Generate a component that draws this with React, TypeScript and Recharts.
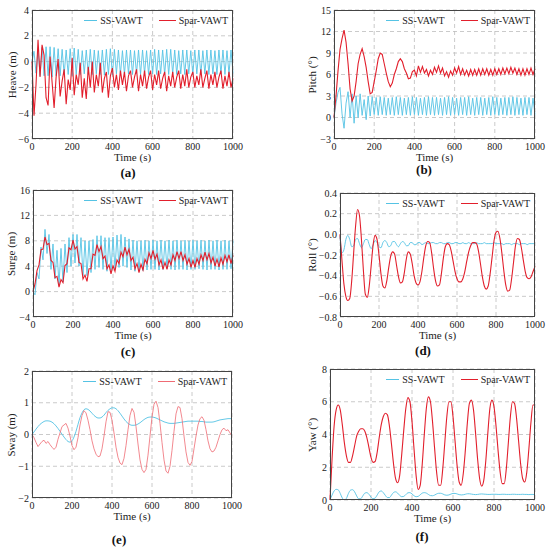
import { LineChart, Line, XAxis, YAxis, CartesianGrid } from "recharts";

// sample times (s), every 10 s
const TIME = [
  0, 10, 20, 30, 40, 50, 60, 70, 80, 90,
  100, 110, 120, 130, 140, 150, 160, 170, 180, 190,
  200, 210, 220, 230, 240, 250, 260, 270, 280, 290,
  300, 310, 320, 330, 340, 350, 360, 370, 380, 390,
  400, 410, 420, 430, 440, 450, 460, 470, 480, 490,
  500, 510, 520, 530, 540, 550, 560, 570, 580, 590,
  600, 610, 620, 630, 640, 650, 660, 670, 680, 690,
  700, 710, 720, 730, 740, 750, 760, 770, 780, 790,
  800, 810, 820, 830, 840, 850, 860, 870, 880, 890,
  900, 910, 920, 930, 940, 950, 960, 970, 980, 990,
  1000,
];
const TIME_TICKS = [0, 200, 400, 600, 800, 1000];

const heaveSS = [
  0, 0.8, -0.9, 1.0, -1.1, 1.1, -1.1, 1.15, -1.1, 1.15,
  -1.2, 1.1, -1.1, 1.0, -1.1, 0.95, -1.0, 0.9, -1.0, 1.0,
  -1.1, 1.05, -1.0, 0.95, -1.0, 0.85, -0.95, 0.9, -1.0, 0.95,
  -1.0, 0.9, -0.95, 0.85, -1.0, 0.9, -1.05, 0.95, -1.0, 1.0,
  -1.05, 0.95, -0.95, 0.9, -1.0, 0.85, -1.0, 0.9, -0.95, 0.9,
  -1.0, 0.85, -0.95, 0.9, -1.0, 0.9, -0.95, 0.85, -1.0, 0.9,
  -0.95, 0.95, -1.0, 0.9, -0.95, 0.9, -1.0, 0.95, -1.0, 0.95,
  -0.95, 0.9, -1.0, 0.85, -0.95, 0.9, -1.0, 0.9, -0.95, 0.85,
  -1.0, 0.9, -0.95, 0.9, -1.0, 0.85, -0.95, 0.9, -1.0, 0.9,
  -0.95, 0.85, -1.0, 0.9, -0.95, 0.9, -1.0, 0.85, -0.95, 0.9,
  -0.9,
];
const heaveSpar = [
  0, -4.2, -1.8, 1.7, -1.2, 1.3, 0.5, -2.8, -3.4, 0.4,
  -1.6, -3.6, -1.2, 0.2, -2.7, -1.5, -0.6, -3.3, -1.4, -2.2,
  0.3, -2.6, -1.0, -1.8, -0.1, -2.8, -1.3, -2.9, -0.4, -2.0,
  0.0, -2.4, -1.0, -1.9, -0.1, -2.4, -1.3, -0.8, -2.8, -1.1,
  -0.5, -2.0, -1.0, -2.2, -0.7, -1.8, -0.8, -2.3, -1.1, -0.7,
  -2.0, -1.2, -0.6, -2.3, -1.0, -1.9, -0.7, -2.1, -1.2, -0.7,
  -2.2, -1.0, -1.8, -0.7, -2.1, -1.3, -0.8, -2.3, -1.1, -1.9,
  -0.8, -2.0, -1.2, -0.7, -2.1, -1.0, -1.9, -0.6, -2.0, -1.2,
  -0.8, -2.0, -1.1, -1.8, -0.6, -2.0, -1.3, -0.7, -2.1, -1.0,
  -1.8, -0.8, -2.0, -1.2, -0.7, -2.1, -1.1, -1.9, -0.8, -2.0,
  -1.3,
];

const pitchSS = [
  0, 2.0, 3.5, 4.2, 0.5, -1.5, 2.0, 3.6, 0.0, 3.3,
  -0.8, 3.0, 0.0, 3.3, 0.3, 2.5, -0.3, 3.0, 0.2, 2.9,
  0.4, 2.8, 0.3, 2.9, 0.4, 2.8, 0.3, 2.7, 0.4, 2.8,
  0.3, 2.9, 0.4, 2.8, 0.3, 2.7, 0.4, 2.8, 0.3, 2.9,
  0.4, 2.8, 0.3, 2.7, 0.4, 2.8, 0.3, 2.9, 0.4, 2.8,
  0.3, 2.8, 0.4, 2.7, 0.3, 2.8, 0.4, 2.9, 0.3, 2.8,
  0.4, 2.7, 0.3, 2.8, 0.4, 2.8, 0.3, 2.9, 0.4, 2.7,
  0.3, 2.8, 0.4, 2.8, 0.3, 2.7, 0.4, 2.8, 0.3, 2.9,
  0.4, 2.8, 0.3, 2.7, 0.4, 2.8, 0.3, 2.8, 0.4, 2.9,
  0.3, 2.8, 0.4, 2.7, 0.3, 2.8, 0.4, 2.8, 0.3, 2.7,
  0.4,
];
const pitchSpar = [
  0, 3.0, 6.5, 9.5, 11.0, 12.2, 10.5, 7.5, 4.0, 2.3,
  3.0, 5.0, 7.5, 8.8, 9.6, 8.5, 7.0, 5.0, 3.3, 3.5,
  5.0, 6.5, 8.2, 9.0, 8.8, 7.5, 6.2, 5.0, 4.3, 4.8,
  6.0, 6.8, 7.8, 8.2, 7.8, 6.8, 6.2, 5.4, 5.5, 6.4,
  6.6, 5.8, 7.2, 6.3, 7.1, 6.2, 6.7, 5.8, 6.6, 6.0,
  7.0, 6.3, 7.2, 6.2, 6.9, 5.8, 6.4, 5.6, 6.5, 5.9,
  6.9, 6.2, 7.1, 6.0, 6.8, 5.9, 6.6, 5.8, 6.7, 5.9,
  6.7, 5.9, 6.8, 5.9, 6.8, 6.0, 6.8, 5.9, 6.7, 5.9,
  6.8, 6.0, 6.8, 6.0, 6.9, 6.1, 6.9, 6.1, 7.0, 6.2,
  6.9, 6.0, 6.8, 5.9, 6.8, 5.9, 6.8, 6.0, 6.9, 6.0,
  6.8,
];

const surgeSS = [
  0, -0.5, 3.0, 2.0, 7.0, 5.0, 9.8, 6.0, 9.0, 3.5,
  7.5, 2.0, 6.5, 1.0, 6.8, 1.5, 7.5, 3.0, 8.5, 4.0,
  9.0, 4.5, 9.0, 4.0, 8.5, 2.5, 8.0, 2.5, 8.0, 3.0,
  8.2, 3.5, 8.8, 3.8, 8.8, 3.5, 8.5, 3.2, 8.5, 3.3,
  8.6, 3.5, 8.9, 3.8, 9.0, 4.0, 8.6, 3.8, 8.3, 3.4,
  8.1, 3.2, 8.0, 3.2, 8.0, 3.3, 8.1, 3.4, 8.0, 3.5,
  8.1, 3.5, 8.0, 3.4, 8.1, 3.5, 8.0, 3.6, 8.1, 3.5,
  8.0, 3.4, 8.1, 3.5, 8.0, 3.5, 8.1, 3.4, 8.0, 3.5,
  8.1, 3.5, 8.0, 3.6, 8.1, 3.5, 8.0, 3.4, 8.1, 3.5,
  8.0, 3.5, 8.1, 3.4, 8.0, 3.5, 8.1, 3.5, 8.0, 3.6,
  8.0,
];
const surgeSpar = [
  0, 1.2, 3.3, 4.2, 6.6, 6.7, 8.6, 7.4, 7.6, 4.9,
  4.6, 2.2, 2.4, 0.7, 1.9, 1.4, 4.1, 4.4, 6.9, 6.6,
  8.1, 6.7, 7.1, 4.6, 4.4, 2.0, 2.6, 1.6, 3.6, 3.6,
  5.9, 5.7, 7.4, 6.3, 7.1, 5.2, 5.6, 3.6, 4.2, 2.8,
  4.1, 3.2, 5.0, 4.4, 6.2, 5.5, 7.0, 5.8, 6.7, 4.9,
  5.4, 3.6, 4.4, 3.0, 4.3, 3.4, 5.1, 4.4, 6.1, 5.2,
  6.5, 5.1, 5.9, 4.2, 5.0, 3.5, 4.6, 3.5, 5.0, 4.2,
  5.8, 4.9, 6.3, 5.2, 6.3, 4.9, 5.8, 4.3, 5.2, 3.8,
  4.9, 3.8, 5.2, 4.3, 5.8, 4.9, 6.2, 5.0, 6.0, 4.5,
  5.4, 4.0, 5.1, 3.9, 5.3, 4.3, 5.7, 4.7, 5.8, 4.4,
  5.7,
];

const rollSS = [
  -0.02, -0.18, -0.15, -0.05, -0.01, -0.05, -0.12, -0.11, -0.05, -0.04,
  -0.09, -0.13, -0.09, -0.05, -0.05, -0.1, -0.14, -0.1, -0.06, -0.08,
  -0.12, -0.13, -0.08, -0.06, -0.08, -0.12, -0.11, -0.07, -0.07, -0.1,
  -0.12, -0.09, -0.07, -0.08, -0.11, -0.11, -0.08, -0.08, -0.1, -0.1,
  -0.08, -0.08, -0.1, -0.09, -0.08, -0.09, -0.09, -0.08, -0.08, -0.09,
  -0.09, -0.08, -0.08, -0.09, -0.09, -0.08, -0.08, -0.09, -0.09, -0.08,
  -0.08, -0.09, -0.09, -0.08, -0.09, -0.09, -0.08, -0.09, -0.09, -0.09,
  -0.08, -0.09, -0.09, -0.09, -0.08, -0.09, -0.09, -0.09, -0.09, -0.08,
  -0.09, -0.09, -0.09, -0.09, -0.1, -0.09, -0.09, -0.09, -0.1, -0.09,
  -0.09, -0.09, -0.1, -0.09, -0.09, -0.09, -0.1, -0.09, -0.09, -0.09,
  -0.09,
];
const rollSpar = [
  0.0, -0.25, -0.48, -0.6, -0.64, -0.62, -0.45, -0.18, 0.08, 0.24,
  0.18, -0.05, -0.35, -0.58, -0.61, -0.5, -0.3, -0.1, -0.01, -0.05,
  -0.2, -0.38, -0.5, -0.52, -0.45, -0.32, -0.21, -0.17, -0.19, -0.3,
  -0.41, -0.47, -0.46, -0.37, -0.24, -0.17, -0.19, -0.28, -0.4, -0.47,
  -0.49, -0.46, -0.36, -0.22, -0.11, -0.07, -0.08, -0.18, -0.33, -0.45,
  -0.5, -0.49, -0.38, -0.23, -0.12, -0.09, -0.1, -0.16, -0.26, -0.36,
  -0.43, -0.46, -0.46, -0.43, -0.36, -0.26, -0.17, -0.11, -0.08, -0.08,
  -0.09, -0.16, -0.28, -0.41, -0.5, -0.53, -0.5, -0.38, -0.22, -0.06,
  0.02, 0.03, -0.04, -0.18, -0.35, -0.49, -0.55, -0.54, -0.43, -0.27,
  -0.11, -0.04, -0.05, -0.13, -0.25, -0.36, -0.42, -0.43, -0.41, -0.36,
  -0.31,
];

const swaySS = [
  0.0, 0.08, 0.17, 0.25, 0.32, 0.37, 0.41, 0.43, 0.43, 0.42,
  0.39, 0.34, 0.27, 0.19, 0.1, 0.01, -0.08, -0.16, -0.22, -0.24,
  -0.2, -0.08, 0.1, 0.32, 0.53, 0.68, 0.78, 0.81, 0.79, 0.74,
  0.67, 0.6, 0.55, 0.52, 0.52, 0.55, 0.61, 0.69, 0.76, 0.81,
  0.84, 0.84, 0.81, 0.75, 0.67, 0.58, 0.49, 0.41, 0.35, 0.31,
  0.29, 0.29, 0.3, 0.33, 0.37, 0.42, 0.47, 0.51, 0.54, 0.55,
  0.55, 0.54, 0.52, 0.49, 0.46, 0.43, 0.4, 0.38, 0.36, 0.35,
  0.35, 0.35, 0.36, 0.37, 0.38, 0.39, 0.4, 0.41, 0.42, 0.42,
  0.42, 0.42, 0.42, 0.42, 0.41, 0.41, 0.4, 0.39, 0.39, 0.39,
  0.39, 0.4, 0.42, 0.44, 0.46, 0.47, 0.48, 0.49, 0.5, 0.5,
  0.5,
];
const swaySpar = [
  0.0, -0.1, -0.25, -0.38, -0.3, -0.22, -0.18, -0.28, -0.22, -0.32,
  -0.4, -0.47, -0.4, -0.15, 0.05, 0.25, 0.3, 0.35, 0.2, -0.05,
  -0.35, -0.48, -0.4, -0.1, 0.3, 0.6, 0.75, 0.68, 0.45, 0.15,
  -0.2, -0.45, -0.62, -0.7, -0.68, -0.45, -0.05, 0.4, 0.72, 0.7,
  0.45, 0.05, -0.4, -0.72, -0.9, -0.95, -0.75, -0.35, 0.15, 0.6,
  0.82, 0.7, 0.25, -0.3, -0.8, -1.1, -1.2, -1.1, -0.65, -0.05,
  0.55, 0.95, 1.05, 0.85, 0.35, -0.25, -0.8, -1.15, -1.22, -1.0,
  -0.5, 0.1, 0.65, 0.88, 0.85, 0.5, -0.05, -0.55, -0.88, -0.97,
  -0.85, -0.45, -0.05, 0.3, 0.5, 0.56, 0.45, 0.15, -0.2, -0.45,
  -0.55, -0.52, -0.4, -0.2, 0.0, 0.15, 0.2, 0.12, 0.15, 0.05,
  -0.05,
];

const yawSS = [
  0.0, 0.3, 0.55, 0.65, 0.62, 0.4, 0.12, 0.0, 0.1, 0.4,
  0.6, 0.63, 0.5, 0.25, 0.07, 0.08, 0.25, 0.42, 0.45, 0.35,
  0.18, 0.08, 0.12, 0.3, 0.5, 0.55, 0.45, 0.28, 0.15, 0.15,
  0.3, 0.46, 0.5, 0.42, 0.28, 0.2, 0.22, 0.33, 0.44, 0.45,
  0.37, 0.26, 0.2, 0.22, 0.32, 0.42, 0.45, 0.42, 0.34, 0.27,
  0.26, 0.3, 0.37, 0.41, 0.41, 0.37, 0.31, 0.29, 0.31, 0.36,
  0.4, 0.4, 0.37, 0.33, 0.31, 0.32, 0.35, 0.38, 0.38, 0.36,
  0.34, 0.33, 0.34, 0.36, 0.37, 0.36, 0.35, 0.34, 0.34, 0.35,
  0.35, 0.35, 0.34, 0.34, 0.35, 0.35, 0.34, 0.34, 0.34, 0.35,
  0.35, 0.34, 0.34, 0.34, 0.35, 0.34, 0.34, 0.33, 0.34, 0.34,
  0.33,
];
const yawSpar = [
  0.0, 2.5, 4.5, 5.5, 5.8, 5.5, 4.6, 3.5, 2.7, 2.3,
  2.3, 2.7, 3.3, 3.9, 4.2, 4.35, 4.35, 4.2, 3.8, 3.2,
  2.6, 2.3, 2.35, 2.9, 3.8, 4.6, 5.1, 5.3, 5.2, 4.5,
  3.4, 2.2, 1.3, 1.05, 1.5, 2.8, 4.3, 5.6, 6.25, 6.0,
  4.8, 3.1, 1.5, 0.65, 0.9, 2.2, 4.0, 5.6, 6.3, 6.0,
  4.8, 3.2, 1.7, 0.9, 0.9, 1.9, 3.5, 5.1, 6.0, 6.0,
  5.1, 3.6, 2.1, 1.1, 0.9, 1.6, 3.0, 4.7, 5.9, 6.1,
  5.5, 4.1, 2.5, 1.3, 0.85, 1.2, 2.4, 4.1, 5.6, 6.1,
  5.7, 4.5, 3.0, 1.7, 1.0, 1.0, 1.9, 3.5, 5.1, 6.0,
  5.9, 5.0, 3.6, 2.2, 1.3, 1.1, 1.7, 3.1, 4.7, 5.8,
  5.8,
];

const SS_COLOR = "#55c3e4";
const SPAR_COLOR = "#e21f2c";
const FONT = "'Liberation Serif', 'Times New Roman', serif";

const minus = (s: string) => s.replace("-", "\u2212");

type PanelProps = {
  px: number; py: number; pw: number; ph: number;
  domain: [number, number]; ticks: number[]; decimals?: number;
  yLabel: string; yLabelX: number;
  tag: string; tagX: number; tagY: number;
  ss: number[]; spar: number[];
  curve: "linear" | "monotone";
  sparCurve?: "linear" | "monotone";
  sparColor?: string; sparWidth?: number;
};

function Panel(p: PanelProps) {
  const yw = 34, mt = 4, mr = 16, xh = 30;
  const rows = TIME.map((t, i) => ({ t, ss: p.ss[i], spar: p.spar[i] }));
  const tickStyle = { fontSize: 10, fill: "#222", fontFamily: FONT };
  const fmt = (v: number) => minus(p.decimals ? v.toFixed(p.decimals) : String(v));
  const sparColor = p.sparColor ?? SPAR_COLOR;
  return (
    <>
      <div style={{ position: "absolute", left: p.px - yw, top: p.py - mt }}>
        <LineChart width={yw + p.pw + mr} height={mt + p.ph + xh} data={rows}
          margin={{ top: mt, right: mr, left: 0, bottom: 0 }}>
          <CartesianGrid stroke="#bdbdbd" strokeDasharray="4 3" strokeWidth={0.8} />
          <XAxis dataKey="t" type="number" domain={[0, 1000]} ticks={TIME_TICKS} height={xh}
            tickLine={false} axisLine={false} tickSize={0} tickMargin={4} tick={tickStyle}
            interval={0} />
          <YAxis type="number" domain={p.domain} ticks={p.ticks} width={yw} allowDataOverflow
            tickLine={false} axisLine={false} tickSize={0} tickMargin={3} tick={tickStyle}
            tickFormatter={fmt} interval={0} />
          <Line type={p.curve} dataKey="ss" stroke={SS_COLOR} strokeWidth={0.9} dot={false}
            isAnimationActive={false} />
          <Line type={p.sparCurve ?? p.curve} dataKey="spar" stroke={sparColor}
            strokeWidth={p.sparWidth ?? 1.1} dot={false} isAnimationActive={false} />
        </LineChart>
      </div>
      <div style={{ position: "absolute", left: p.px, top: p.py, width: p.pw, height: p.ph,
        border: "1px solid #444", boxSizing: "border-box", pointerEvents: "none" }} />
      <div style={{ position: "absolute", right: 550 - (p.px + p.pw - 5), top: p.py + 5,
        display: "flex", alignItems: "center", fontFamily: FONT, fontSize: 10, color: "#222",
        whiteSpace: "nowrap" }}>
        <span style={{ display: "inline-block", width: 13, borderTop: `1.3px solid ${SS_COLOR}`, marginRight: 3 }} />
        <span>SS-VAWT</span>
        <span style={{ display: "inline-block", width: 17, borderTop: `1.3px solid ${sparColor}`, marginLeft: 16, marginRight: 3 }} />
        <span>Spar-VAWT</span>
      </div>
      <div style={{ position: "absolute", left: p.yLabelX, top: p.py + p.ph / 2,
        transform: "translate(-50%, -50%) rotate(-90deg)", fontFamily: FONT, fontSize: 11,
        color: "#222", whiteSpace: "nowrap" }}>{p.yLabel}</div>
      <div style={{ position: "absolute", left: p.px + p.pw / 2, top: p.py + p.ph + 18,
        transform: "translate(-50%, -50%)", fontFamily: FONT, fontSize: 11, color: "#222",
        whiteSpace: "nowrap" }}>Time (s)</div>
      <div style={{ position: "absolute", left: p.tagX, top: p.tagY,
        transform: "translate(-50%, -50%)", fontFamily: FONT, fontSize: 13, fontWeight: "bold",
        color: "#111" }}>{p.tag}</div>
    </>
  );
}

export default function App() {
  return (
    <div style={{ position: "absolute", left: 0, top: 0, width: 550, height: 550,
      background: "#fff", overflow: "hidden" }}>
      <Panel px={32} py={10} pw={201} ph={129} domain={[-6, 4]} ticks={[-6, -4, -2, 0, 2, 4]}
        yLabel="Heave (m)" yLabelX={12} tag="(a)" tagX={128} tagY={173}
        ss={heaveSS} spar={heaveSpar} curve="linear" />
      <Panel px={334} py={10} pw={201} ph={129} domain={[-3, 15]} ticks={[-3, 0, 3, 6, 9, 12, 15]}
        yLabel="Pitch (°)" yLabelX={312} tag="(b)" tagX={424} tagY={170}
        ss={pitchSS} spar={pitchSpar} curve="linear" />
      <Panel px={33} py={190} pw={200} ph={127} domain={[-4, 16]} ticks={[-4, 0, 4, 8, 12, 16]}
        yLabel="Surge (m)" yLabelX={11} tag="(c)" tagX={128} tagY={352}
        ss={surgeSS} spar={surgeSpar} curve="linear" />
      <Panel px={340} py={193} pw={195} ph={124} domain={[-0.8, 0.4]}
        ticks={[-0.8, -0.6, -0.4, -0.2, 0, 0.2, 0.4]} decimals={1}
        yLabel="Roll (°)" yLabelX={312} tag="(d)" tagX={423} tagY={351}
        ss={rollSS} spar={rollSpar} curve="monotone" />
      <Panel px={32} py={371} pw={200} ph={127} domain={[-2, 2]} ticks={[-2, -1, 0, 1, 2]}
        yLabel="Sway (m)" yLabelX={11} tag="(e)" tagX={119} tagY={540}
        ss={swaySS} spar={swaySpar} curve="monotone" sparCurve="linear"
        sparColor="#ef6b74" sparWidth={0.8} />
      <Panel px={330} py={369} pw={205} ph={131} domain={[0, 8]} ticks={[0, 2, 4, 6, 8]}
        yLabel="Yaw (°)" yLabelX={312} tag="(f)" tagX={422} tagY={537}
        ss={yawSS} spar={yawSpar} curve="monotone" />
    </div>
  );
}
